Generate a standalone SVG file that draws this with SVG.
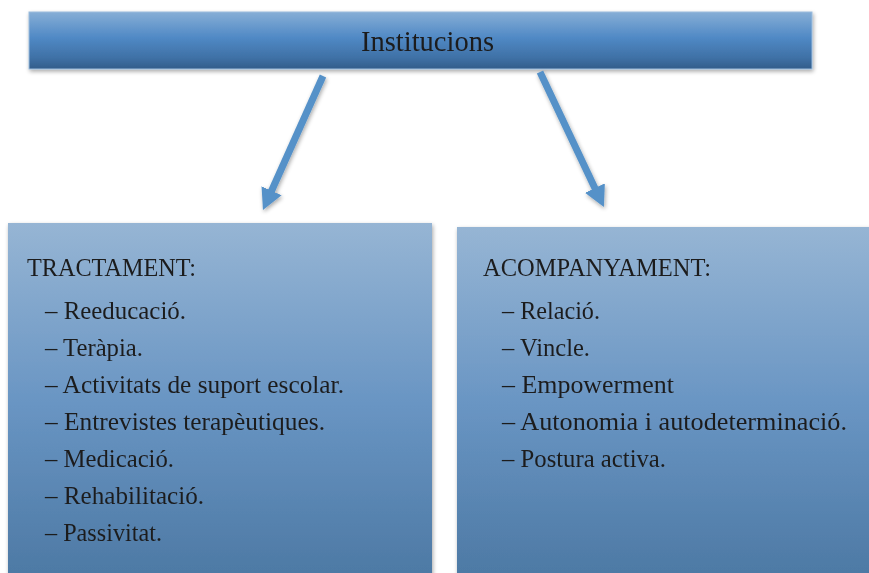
<svg xmlns="http://www.w3.org/2000/svg" width="869" height="573" viewBox="0 0 869 573">
<style>
text{font-family:"Liberation Serif","Times New Roman",serif;fill:#1d1d1f;}
.h{font-size:29px;}
.t{font-size:25px;}
.i{font-size:25px;}
.conn{stroke:#5591c8;stroke-width:7;fill:none;}
</style>
<defs>
<linearGradient id="gTop" x1="0" y1="0" x2="0" y2="1">
<stop offset="0" stop-color="#86aed6"/>
<stop offset="0.45" stop-color="#5089c5"/>
<stop offset="0.8" stop-color="#3f71a6"/>
<stop offset="1" stop-color="#335d8a"/>
</linearGradient>
<linearGradient id="gBox" x1="0" y1="0" x2="0" y2="1">
<stop offset="0" stop-color="#96b5d4"/>
<stop offset="0.5" stop-color="#6995c3"/>
<stop offset="1" stop-color="#4c78a3"/>
</linearGradient>
<filter id="sh" x="-10%" y="-10%" width="120%" height="130%">
<feGaussianBlur in="SourceAlpha" stdDeviation="2"/>
<feOffset dx="1" dy="2"/>
<feComponentTransfer><feFuncA type="linear" slope="0.35"/></feComponentTransfer>
<feMerge><feMergeNode/><feMergeNode in="SourceGraphic"/></feMerge>
</filter>
<marker id="ah" markerUnits="userSpaceOnUse" markerWidth="24" markerHeight="24" refX="7" refY="11" orient="auto">
<path d="M0,0 L21,11 L0,22 z" fill="#5591c8"/>
</marker>
</defs>
<rect width="869" height="573" fill="#ffffff"/>
<g id="node-institucions" filter="url(#sh)">
<rect x="29" y="12" width="783" height="57" fill="url(#gTop)" stroke="#9cbcdc" stroke-width="1"/>
<text class="h" x="427.5" y="50.5" text-anchor="middle" textLength="133" lengthAdjust="spacingAndGlyphs">Institucions</text>
</g>
<g id="connectors" filter="url(#sh)">
<line class="conn" x1="323" y1="76" x2="268.7" y2="197.2" marker-end="url(#ah)"/>
<line class="conn" x1="540" y1="72" x2="597.9" y2="194.4" marker-end="url(#ah)"/>
</g>
<g id="node-tractament" filter="url(#sh)">
<rect x="8" y="223" width="424" height="360" fill="url(#gBox)"/>
<text class="t" x="27" y="276" textLength="169" lengthAdjust="spacingAndGlyphs">TRACTAMENT:</text>
<text class="i" x="45" y="319" textLength="141" lengthAdjust="spacingAndGlyphs">– Reeducació.</text>
<text class="i" x="45" y="356" textLength="98" lengthAdjust="spacingAndGlyphs">– Teràpia.</text>
<text class="i" x="45" y="393" textLength="299" lengthAdjust="spacingAndGlyphs">– Activitats de suport escolar.</text>
<text class="i" x="45" y="430" textLength="280" lengthAdjust="spacingAndGlyphs">– Entrevistes terapèutiques.</text>
<text class="i" x="45" y="467" textLength="129" lengthAdjust="spacingAndGlyphs">– Medicació.</text>
<text class="i" x="45" y="504" textLength="159" lengthAdjust="spacingAndGlyphs">– Rehabilitació.</text>
<text class="i" x="45" y="541" textLength="117" lengthAdjust="spacingAndGlyphs">– Passivitat.</text>
</g>
<g id="node-acompanyament" filter="url(#sh)">
<rect x="457" y="227" width="420" height="356" fill="url(#gBox)"/>
<text class="t" x="483" y="276" textLength="228" lengthAdjust="spacingAndGlyphs">ACOMPANYAMENT:</text>
<text class="i" x="502" y="319" textLength="98" lengthAdjust="spacingAndGlyphs">– Relació.</text>
<text class="i" x="502" y="356" textLength="88" lengthAdjust="spacingAndGlyphs">– Vincle.</text>
<text class="i" x="502" y="393" textLength="172" lengthAdjust="spacingAndGlyphs">– Empowerment</text>
<text class="i" x="502" y="430" textLength="345" lengthAdjust="spacingAndGlyphs">– Autonomia i autodeterminació.</text>
<text class="i" x="502" y="467" textLength="164" lengthAdjust="spacingAndGlyphs">– Postura activa.</text>
</g>
</svg>
